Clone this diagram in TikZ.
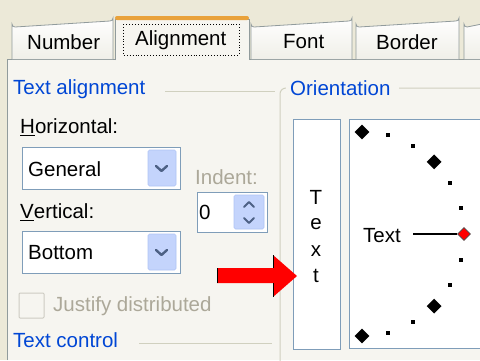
\documentclass[tikz,border=0pt]{standalone}
\usepackage{fontspec}
\setmainfont{Liberation Sans}
\usetikzlibrary{shapes.geometric}
\definecolor{dlgbg}{HTML}{ECE9D8}
\definecolor{panelbg}{HTML}{F6F5F0}
\definecolor{tabborder}{HTML}{919B9C}
\definecolor{tabbottom}{HTML}{F0EFE8}
\definecolor{grpblue}{HTML}{0046D5}
\definecolor{grpline}{HTML}{D0D0BF}
\definecolor{greytext}{HTML}{ACA899}
\definecolor{ctlborder}{HTML}{7F9DB9}
\definecolor{btnblue}{HTML}{C4D4FC}
\definecolor{btnedge}{HTML}{B0C4F4}
\definecolor{chev}{HTML}{4D6185}
\definecolor{tabtop}{HTML}{E9A23B}
\tikzset{
  uitext/.style={font=\fontsize{20.5}{24}\selectfont, inner sep=0pt, anchor=west},
  grplabel/.style={uitext, text=grpblue},
  greylabel/.style={uitext, text=greytext},
  tabshape/.style={draw=tabborder, top color=white, bottom color=tabbottom, line width=0.8pt},
  ctlbox/.style={draw=ctlborder, fill=white, line width=1pt},
  btnbox/.style={draw=btnedge, fill=btnblue, line width=0.6pt, rounded corners=1.5pt},
  chevron/.style={draw=chev, line width=2.4pt, line cap=round, line join=round},
  bigdia/.style={diamond, fill=black, minimum size=15pt, inner sep=0pt},
  smalldot/.style={rectangle, fill=black, minimum size=4pt, inner sep=0pt},
  reddia/.style={diamond, fill=red, draw=black!70, line width=0.6pt, minimum size=13pt, inner sep=0pt},
  grpline/.style={draw=grpline, line width=1pt}
}
\begin{document}
\begin{tikzpicture}[x=1pt,y=-1pt]
\useasboundingbox (0,0) rectangle (480,360);
\clip (0,0) rectangle (480,360);
% backgrounds
\fill[dlgbg] (0,0) rectangle (480,360);
\fill[panelbg] (7,59) rectangle (480,360);
\draw[tabborder, line width=0.8pt] (7,360) -- (7,59) -- (480,59);
% unselected tabs
\foreach \xa/\xb in {12/113, 251/352, 356/459, 464/500} {
  \path[tabshape] (\xa,59) -- (\xa,24) arc[start angle=180, end angle=90, radius=3] -- (\xb-3,21) arc[start angle=90, end angle=0, radius=3] -- (\xb,59);
}
% selected tab
\path[draw=tabborder, fill=panelbg, line width=0.8pt] (115,60) -- (115,19) -- (249,19) -- (249,60);
\fill[panelbg] (115.5,58) rectangle (248.5,62);
\fill[tabtop, rounded corners=2pt] (115,16) rectangle (249,20);
\node[uitext] (tabnum) at (27,42) {Number};
\node[uitext] (tabali) at (135,40) {Alignment};
\node[uitext] (tabfont) at (283,42) {Font};
\node[uitext] (tabbord) at (376,42) {Border};
\draw[dotted, line width=0.9pt] (123,24) rectangle (239,55);
% Text alignment group
\node[grplabel] (talign) at (13,89) {Text alignment};
\draw[grpline] (165,91) -- (275,91);
\node[uitext] (horiz) at (20,127) {\underline{H}orizontal:};
\draw[ctlbox] (22,147) rectangle (180,189);
\node[uitext] (general) at (28,169) {General};
\draw[btnbox] (148,150) rectangle (176,186);
\draw[chevron] (156,166) -- (161.5,171) -- (167,166);
\node[greylabel] (indent) at (195,177) {Indent:};
\draw[ctlbox] (197,192) rectangle (267,232);
\node[uitext] (zero) at (199,212) {0};
\draw[btnbox] (234,195) rectangle (264,229);
\draw[chevron, line width=2pt] (244,207) -- (249,202) -- (254,207);
\draw[chevron, line width=2pt] (244,218) -- (249,223) -- (254,218);
\node[uitext] (vert) at (20,212) {\underline{V}ertical:};
\draw[ctlbox] (22,231) rectangle (180,273);
\node[uitext] (bottom) at (28,253) {Bottom};
\draw[btnbox] (148,234) rectangle (176,270);
\draw[chevron] (156,250) -- (161.5,255) -- (167,250);
\draw[draw=greytext!60, line width=1pt, rounded corners=1pt] (19,293) rectangle (44,318);
\node[greylabel] (justify) at (53,306) {Justify distributed};
\node[grplabel] (tcontrol) at (13,340) {Text control};
\draw[grpline] (139,343) -- (272,343);
% Orientation group
\draw[grpline, rounded corners=6pt] (280,362) -- (280,88) -- (490,88);
\fill[panelbg] (286,78) rectangle (399,99);
\node[grplabel] (orient) at (290,88) {Orientation};
% vertical text box
\draw[ctlbox] (293,119) rectangle (340,349);
\node[uitext, anchor=center] (vt) at (316,197) {T};
\node[uitext, anchor=center] (ve) at (316,224) {e};
\node[uitext, anchor=center] (vx) at (316,251) {x};
\node[uitext, anchor=center] (vtt) at (316,276) {t};
% dial box
\draw[ctlbox] (349,119) rectangle (500,348);
\coordinate (c) at (362,234);
\foreach \a in {90,45,-45,-90} { \path (c) ++(\a:102pt) node[bigdia] {}; }
\foreach \a in {75,60,30,15,-15,-30,-60,-75} { \path (c) ++(\a:102pt) node[smalldot] {}; }
\node[uitext, anchor=center] (dialtext) at (382,236) {Text};
\coordinate (lineA) at (413,234);
\node[reddia] (red) at (464,234) {};
\draw[line width=1.2pt] (lineA) -- (red.west);
% red arrow
\fill[red] (217,268) -- (273,268) -- (273,255) -- (297,276) -- (273,297) -- (273,283) -- (217,283) -- cycle;
\draw[black, line width=1.8pt] (217.5,268) -- (217.5,283);
\draw[black, line width=1.8pt] (273.5,255) -- (273.5,268);
\draw[black, line width=1.8pt] (273.5,283) -- (273.5,297);
\end{tikzpicture}
\end{document}
